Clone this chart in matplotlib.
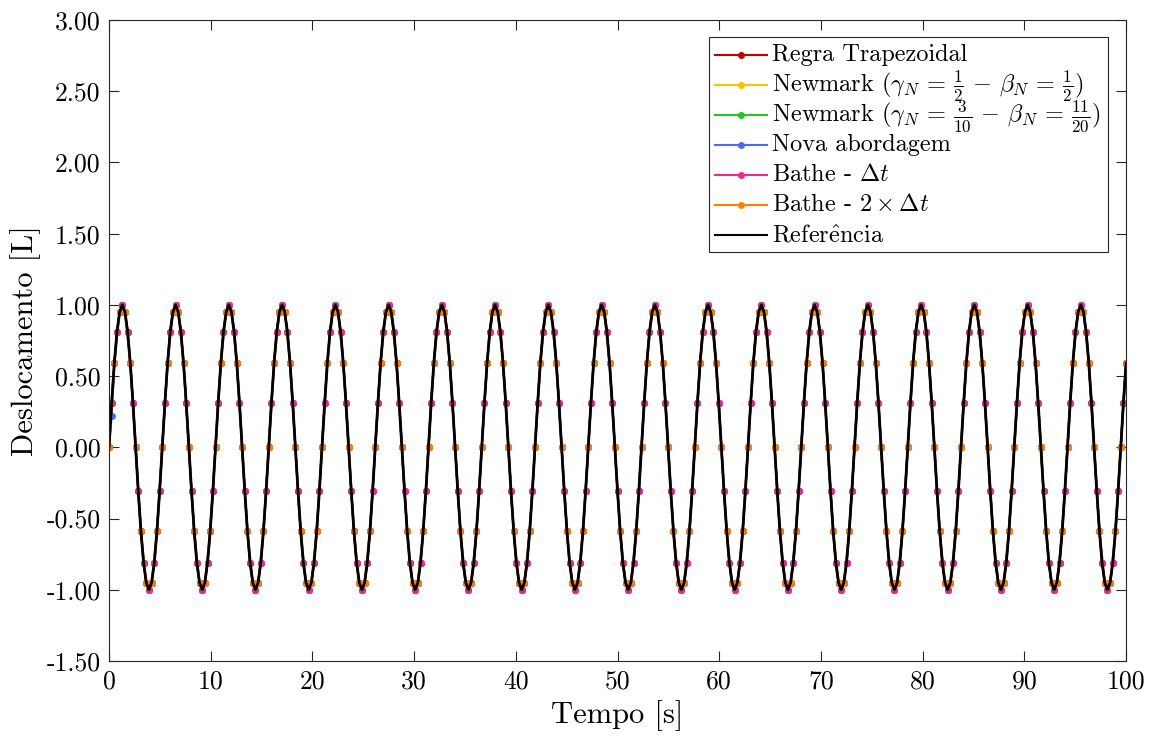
import numpy as np
import matplotlib
matplotlib.use("Agg")
import matplotlib.pyplot as plt
import matplotlib.ticker as mtick
from matplotlib.patches import Rectangle

plt.rcParams["font.family"] = "serif"
plt.rcParams["font.serif"] = ["cmr10"]
plt.rcParams["mathtext.fontset"] = "cm"
plt.rcParams["axes.formatter.use_mathtext"] = True

DT = 0.2618
N_STEPS = 383
CYCLE = [0.00, 0.31, 0.59, 0.81, 0.95, 1.00, 0.95, 0.81, 0.59, 0.31,
         0.00, -0.31, -0.59, -0.81, -0.95, -1.00, -0.95, -0.81, -0.59, -0.31]

# Bathe with 2*dt: half as many samples per period
DT2 = 0.5236
N_STEPS2 = 192
CYCLE2 = [0.00, 0.59, 0.95, 0.95, 0.59, 0.00, -0.59, -0.95, -0.95, -0.59]

# first step of the new approach differs slightly
NOVA_FIRST = 0.22

LABELS = [
    "Regra Trapezoidal",
    r"Newmark ($\gamma_N \,=\, \frac{1}{2} \,-\, \beta_N \,=\, \frac{1}{2}$)",
    r"Newmark ($\gamma_N \,=\, \frac{3}{10} \,-\, \beta_N \,=\, \frac{11}{20}$)",
    "Nova abordagem",
    r"Bathe - $\Delta t$",
    r"Bathe - $2 \times \Delta t$",
    r"Refer$\hat{\mathrm{e}}$ncia",
]
COLORS = ["#c00000", "#ffc000", "#1ec81e", "#4a6cf0", "#f0288c", "#ff8000", "black"]

YTICKS = [-1.5, -1.0, -0.5, 0.0, 0.5, 1.0, 1.5, 2.0, 2.5, 3.0]
XTICKS = [0, 10, 20, 30, 40, 50, 60, 70, 80, 90, 100]

t = np.arange(N_STEPS) * DT
u = np.resize(np.array(CYCLE), N_STEPS)
u_nova = u.copy()
u_nova[1] = NOVA_FIRST
t2 = np.arange(N_STEPS2) * DT2
u2 = np.resize(np.array(CYCLE2), N_STEPS2)

series = [(t, u), (t, u), (t, u), (t, u_nova), (t, u), (t2, u2)]

W, H = 1153, 738
AX_L, AX_R, AX_T, AX_B = 109, 1126, 20, 661
fig = plt.figure(figsize=(W / 100, H / 100), dpi=100)
ax = fig.add_axes([AX_L / W, 1 - AX_B / H, (AX_R - AX_L) / W, (AX_B - AX_T) / H])

for (x, y), col in zip(series, COLORS[:-1]):
    ax.plot(x, y, color=col, lw=1.5, marker="o", markersize=4)
ax.plot(t, u, color=COLORS[-1], lw=2)

ax.set_xlim(0, 100)
ax.set_ylim(-1.5, 3.0)
ax.set_xticks(XTICKS)
ax.set_yticks(YTICKS)
ax.yaxis.set_major_formatter(mtick.FuncFormatter(lambda v, p: f"{v:.2f}"))
ax.xaxis.set_major_formatter(mtick.FuncFormatter(lambda v, p: f"{v:.0f}"))
ax.tick_params(direction="in", length=7, width=0.8, top=True, right=True,
               labelsize=18.5, colors="#262626", labelcolor="black", pad=6)
for s in ax.spines.values():
    s.set_color("#262626")
    s.set_linewidth(0.8)

ax.set_xlabel("Tempo [s]", fontsize=22, labelpad=5)
ax.set_ylabel("Deslocamento [L]", fontsize=22, labelpad=4)


# legend drawn by hand so the rows keep an even 30 px pitch
def fx(px):
    return (px - AX_L) / (AX_R - AX_L)


def fy(py):
    return (AX_B - py) / (AX_B - AX_T)


box = Rectangle((fx(709), fy(252)), fx(1108) - fx(709), fy(37) - fy(252),
                transform=ax.transAxes, facecolor="white", edgecolor="#262626",
                lw=0.8, zorder=10, clip_on=False)
ax.add_patch(box)
for i, (lab, col) in enumerate(zip(LABELS, COLORS)):
    yc = 55 + 30 * i
    ax.plot([fx(715), fx(767)], [fy(yc), fy(yc)], color=col, lw=1.5,
            transform=ax.transAxes, clip_on=False, zorder=11)
    if i < len(LABELS) - 1:
        ax.plot([fx(741)], [fy(yc)], color=col, marker="o", markersize=4,
                transform=ax.transAxes, clip_on=False, zorder=11)
    ax.text(fx(772), fy(yc + 6), lab, fontsize=17.5, va="baseline", ha="left",
            transform=ax.transAxes, zorder=12)

fig.savefig("out.png", dpi=100)
